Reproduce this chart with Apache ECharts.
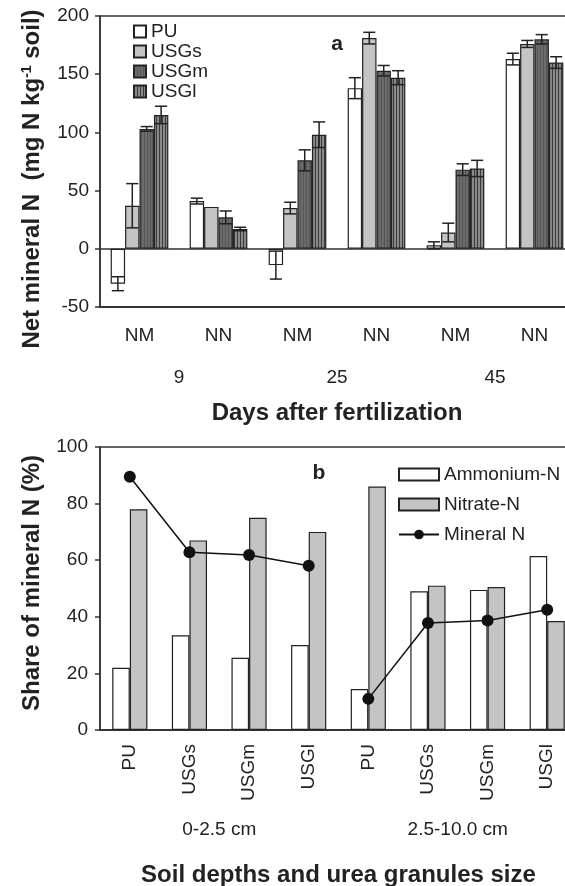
<!DOCTYPE html>
<html>
<head>
<meta charset="utf-8">
<script src="https://cdn.jsdelivr.net/npm/echarts@6/dist/echarts.min.js"></script>
<style>
  html, body { margin: 0; padding: 0; background: #fff; }
  #chart { width: 565px; height: 886px; }
</style>
</head>
<body>
<div id="chart"></div>
<script>
// panel a: net mineral N by sampling day and treatment
const treatments = ['PU', 'USGs', 'USGm', 'USGl']
const periods = ['NM', 'NN', 'NM', 'NN', 'NM', 'NN']
const days = ['9', '25', '45']
const netPU = [-30, 41, -14, 138, 3, 163]
const netUSGs = [37, 36, 35, 181, 14, 176]
const netUSGm = [103, 27, 76, 153, 68, 180]
const netUSGl = [115, 17, 98, 147, 69, 160]
const errPU = [6, 2.5, 12, 9, 3, 5]
const errUSGs = [19, 0, 5, 5, 8, 3]
const errUSGm = [2, 5.5, 9, 4.5, 5, 4]
const errUSGl = [7.5, 1.5, 11, 6, 7, 5]

// panel b: share of mineral N
const granules = ['PU', 'USGs', 'USGm', 'USGl', 'PU', 'USGs', 'USGm', 'USGl']
const depths = ['0-2.5 cm', '2.5-10.0 cm']
const ammonium = [22, 33.5, 25.5, 30, 14.5, 49, 49.5, 61.5]
const nitrate = [78, 67, 75, 70, 86, 51, 50.5, 38.5]
const mineralN = [89.5, 62.8, 61.8, 58, 11, 37.8, 38.7, 42.5]

const FONT = 'Liberation Sans, Arial, sans-serif'
const INK = '#222'

const stripes = (base, line, step) => {
  const c = document.createElement('canvas')
  c.width = step
  c.height = 4
  const ctx = c.getContext('2d')
  ctx.fillStyle = base
  ctx.fillRect(0, 0, step, 4)
  ctx.fillStyle = line
  ctx.fillRect(0, 0, 1, 4)
  return { image: c, repeat: 'repeat' }
}

const fills = ['#ffffff', '#c4c4c4', stripes('#6c6c6c', '#565656', 3), stripes('#8a8a8a', '#3a3a3a', 3)]
const netValues = [netPU, netUSGs, netUSGm, netUSGl]
const netErrors = [errPU, errUSGs, errUSGm, errUSGl]
const catGapA = 0.27

const errorBars = (pos) => (params, api) => {
  const err = api.value(2)
  if (!err) return null
  const val = api.value(1)
  const barW = api.size([1, 0])[0] * (1 - catGapA) / 4
  const cx = api.coord([api.value(0), val])[0] + (pos - 1.5) * barW
  const hi = api.coord([api.value(0), val + err])[1]
  const lo = api.coord([api.value(0), val - err])[1]
  const half = barW * 0.42
  const style = { stroke: INK, lineWidth: 1.5 }
  return {
    type: 'group',
    children: [
      { type: 'line', shape: { x1: cx, y1: hi, x2: cx, y2: lo }, style },
      { type: 'line', shape: { x1: cx - half, y1: hi, x2: cx + half, y2: hi }, style },
      { type: 'line', shape: { x1: cx - half, y1: lo, x2: cx + half, y2: lo }, style }
    ]
  }
}

const axisLine = { lineStyle: { color: '#333', width: 1.5 } }
const tickLine = { color: '#333', width: 1.5 }
const labelStyle = { color: INK, fontSize: 19, fontFamily: FONT }

const series = []
treatments.forEach((t, i) => {
  series.push({
    name: t, type: 'bar', xAxisIndex: 0, yAxisIndex: 0,
    barGap: 0, barCategoryGap: '27%',
    itemStyle: { color: fills[i], borderColor: INK, borderWidth: 1.2 },
    data: netValues[i]
  })
})
treatments.forEach((t, i) => {
  series.push({
    type: 'custom', xAxisIndex: 0, yAxisIndex: 0, z: 5,
    renderItem: errorBars(i),
    data: netValues[i].map((v, k) => [k, v, netErrors[i][k]])
  })
})
series.push({
  name: 'Ammonium-N', type: 'bar', xAxisIndex: 3, yAxisIndex: 1,
  barGap: 0, barCategoryGap: '41%',
  itemStyle: { color: '#fff', borderColor: INK, borderWidth: 1.2 },
  data: ammonium
})
series.push({
  name: 'Nitrate-N', type: 'bar', xAxisIndex: 3, yAxisIndex: 1,
  barGap: 0, barCategoryGap: '41%',
  itemStyle: { color: '#c4c4c4', borderColor: INK, borderWidth: 1.2 },
  data: nitrate
})
// the two depths are drawn as separate lines
;[[0, 4], [4, 8]].forEach(([a, b]) => {
  series.push({
    name: 'Mineral N', type: 'line', xAxisIndex: 3, yAxisIndex: 1, z: 6,
    symbol: 'circle', symbolSize: 12,
    lineStyle: { color: '#111', width: 1.5 },
    itemStyle: { color: '#111' },
    data: mineralN.map((v, k) => (k >= a && k < b ? v : '-'))
  })
})

const chart = echarts.init(document.getElementById('chart'))
chart.setOption({
  animation: false,
  textStyle: { fontFamily: FONT },
  grid: [
    { left: 100, top: 16, width: 474, height: 291, show: true, borderColor: '#333', borderWidth: 1.5, outerBoundsMode: 'none', containLabel: false },
    { left: 100, top: 447, width: 477, height: 283, show: true, borderColor: '#333', borderWidth: 1.5, outerBoundsMode: 'none', containLabel: false }
  ],
  legend: [
    {
      data: treatments.map((t) => ({ name: t, icon: 'rect' })),
      orient: 'vertical', left: 133, top: 22, padding: 0,
      itemWidth: 12, itemHeight: 12, itemGap: 1,
      textStyle: { color: INK, fontSize: 19, fontFamily: FONT }
    },
    {
      data: [{ name: 'Ammonium-N', icon: 'rect' }, { name: 'Nitrate-N', icon: 'rect' }, 'Mineral N'],
      orient: 'vertical', left: 398, top: 465, padding: 0,
      itemWidth: 40, itemHeight: 12, itemGap: 11,
      textStyle: { color: INK, fontSize: 19, fontFamily: FONT }
    }
  ],
  xAxis: [
    {
      type: 'category', gridIndex: 0, data: periods, position: 'bottom',
      axisLine: { onZero: false, ...axisLine },
      axisTick: { length: 43, interval: 0, lineStyle: tickLine },
      axisLabel: { ...labelStyle, margin: 19, interval: 0 }
    },
    {
      type: 'category', gridIndex: 0, data: days, position: 'bottom',
      axisLine: { onZero: false, ...axisLine },
      axisTick: { length: 83, interval: 0, lineStyle: tickLine },
      axisLabel: { ...labelStyle, margin: 61 },
      name: 'Days after fertilization', nameLocation: 'middle', nameGap: 94,
      nameTextStyle: { color: INK, fontSize: 24, fontWeight: 'bold', fontFamily: FONT }
    },
    {
      type: 'category', gridIndex: 0, data: periods, position: 'bottom',
      axisLine: { onZero: true, ...axisLine },
      axisTick: { length: 6, interval: 0, lineStyle: tickLine },
      axisLabel: { show: false }
    },
    {
      type: 'category', gridIndex: 1, data: granules, position: 'bottom',
      axisLine: { onZero: false, ...axisLine },
      axisTick: { length: 72, interval: 0, lineStyle: tickLine },
      axisLabel: { ...labelStyle, rotate: 90, margin: 14, interval: 0 }
    },
    {
      type: 'category', gridIndex: 1, data: depths, position: 'bottom',
      axisLine: { onZero: false, ...axisLine },
      axisTick: { length: 112, interval: 0, lineStyle: tickLine },
      axisLabel: { ...labelStyle, margin: 90 },
      name: 'Soil depths and urea granules size', nameLocation: 'middle', nameGap: 133,
      nameTextStyle: { color: INK, fontSize: 24, fontWeight: 'bold', fontFamily: FONT }
    }
  ],
  yAxis: [
    {
      type: 'value', gridIndex: 0, min: -50, max: 200, interval: 50,
      axisLine: { show: true, ...axisLine },
      axisTick: { show: true, length: 5, lineStyle: tickLine },
      axisLabel: { ...labelStyle, margin: 11 },
      splitLine: { show: false }
    },
    {
      type: 'value', gridIndex: 1, min: 0, max: 100, interval: 20,
      axisLine: { show: true, ...axisLine },
      axisTick: { show: true, length: 5, lineStyle: tickLine },
      axisLabel: { ...labelStyle, margin: 12 },
      splitLine: { show: false }
    }
  ],
  graphic: [
    {
      type: 'text', x: 32, y: 179, rotation: Math.PI / 2,
      style: {
        text: '{b|Net mineral N  (mg N kg}{s|-1}{b| soil)}',
        rich: {
          b: { fontSize: 24, fontWeight: 'bold', fontFamily: FONT, fill: INK },
          s: { fontSize: 14, fontWeight: 'bold', fontFamily: FONT, fill: INK, verticalAlign: 'top', padding: [0, 0, 4, 0] }
        },
        align: 'center', verticalAlign: 'middle'
      }
    },
    {
      type: 'text', x: 32, y: 583, rotation: Math.PI / 2,
      style: {
        text: 'Share of mineral N (%)', fontSize: 24, fontWeight: 'bold', fontFamily: FONT, fill: INK,
        align: 'center', verticalAlign: 'middle'
      }
    },
    {
      type: 'text', x: 337, y: 44,
      style: { text: 'a', fontSize: 21, fontWeight: 'bold', fontFamily: FONT, fill: INK, align: 'center', verticalAlign: 'middle' }
    },
    {
      type: 'text', x: 319, y: 473,
      style: { text: 'b', fontSize: 21, fontWeight: 'bold', fontFamily: FONT, fill: INK, align: 'center', verticalAlign: 'middle' }
    }
  ],
  series
})
</script>
</body>
</html>
